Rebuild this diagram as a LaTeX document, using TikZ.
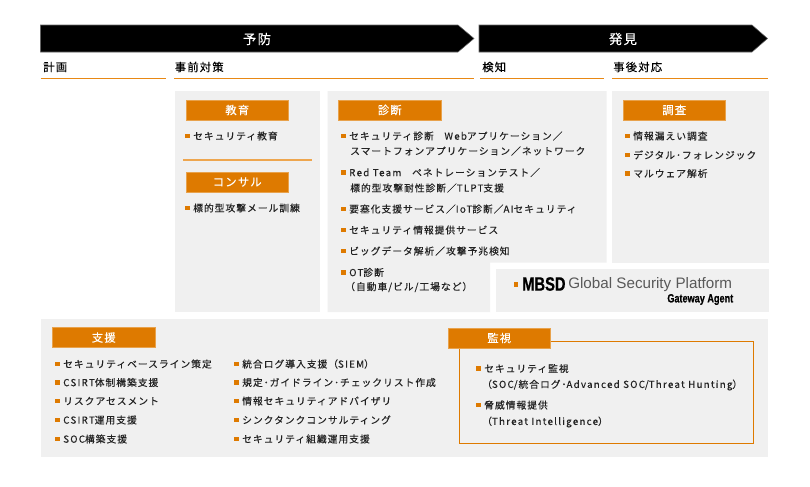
\documentclass[tikz,border=0pt]{standalone}
\usepackage{fontspec}
\usepackage{xcolor}
\setmainfont{Noto Sans CJK JP}[LetterSpace=10.5,FakeBold=0.25]
\newfontfamily\itemlatin{Noto Sans CJK JP}[LetterSpace=13,FakeBold=0.25]
\newfontfamily\latinfont{Liberation Sans}
\newfontfamily\narrowfont{Liberation Sans}[FakeStretch=0.76,FakeBold=0.6]
\newcommand{\ltn}[1]{{\itemlatin #1}}
\definecolor{mbsdorange}{RGB}{222,122,0}
\definecolor{lineorange}{RGB}{232,136,20}
\definecolor{paneglay}{RGB}{240,240,240}
\definecolor{itemtext}{RGB}{34,34,34}
\tikzset{
    phasearrow/.style={fill=black,draw=gray!80!black,line width=0.4pt},
    phasetext/.style={text=white,inner sep=0pt,font=\fontsize{10}{12}\selectfont},
    headtext/.style={anchor=west,inner sep=0pt,text=black,font=\fontsize{8.5}{10}\selectfont},
    headline/.style={lineorange,line width=0.9pt},
    pane/.style={fill=paneglay},
    tagbox/.style={fill=mbsdorange,draw=mbsdorange!70!white,line width=0.3pt},
    tagtext/.style={text=white,inner sep=0pt,font=\fontsize{8.5}{10}\selectfont},
    itemtext/.style={anchor=west,inner sep=0pt,text=itemtext,font=\fontsize{7.3}{9}\selectfont},
    itembullet/.style={fill=mbsdorange}
}
\begin{document}
\begin{tikzpicture}[x=0.75pt,y=-0.75pt]
    \useasboundingbox (0,0) rectangle (810,486);
    \fill[white] (0,0) rectangle (810,486);
    \draw[phasearrow] (40.5,25)--(458,25)--(474,38.5)--(458,52)--(40.5,52)--cycle;
    \draw[phasearrow] (479,25)--(752,25)--(767.5,38.5)--(752,52)--(479,52)--cycle;
    \node[phasetext] (yobou) at (257,39){予防};
    \node[phasetext] (hakken) at (623,39){発見};
    \foreach \n/\x/\t in {keikaku/43/計画,jizen/174.5/事前対策,kenchi/482/検知,jigo/613/事後対応}
        \node[headtext] (\n) at (\x,67){\t};
    \foreach \a/\b in {40.5/166,174/474,480/604,612/768}
        \draw[headline] (\a,78.5)--(\b,78.5);
    \fill[pane] (174.5,91) rectangle (320,312);
    \fill[pane] (327.5,91)--(606.7,91)--(606.7,262.5)--(490,262.5)--(490,312)--(327.5,312)--cycle;
    \fill[pane] (612,91) rectangle (769,262.5);
    \fill[pane] (496,268.5) rectangle (769,312);
    \fill[pane] (41,319) rectangle (768,457);
    \draw[mbsdorange,line width=0.85pt] (459.5,341.5) rectangle (753.5,443.5);
    \draw[lineorange!75!white,line width=0.9pt] (183,160)--(312,160);
    \foreach \n/\x/\y/\t in {kyoiku/186/100/教育,consul/186/172/コンサル,shindan/338.5/100/診断,chosa/623/100/調査,shien/52.5/327.5/支援,kanshi/448/328/監視}{
        \fill[tagbox] (\x,\y) rectangle ++(102.5,20);
        \node[tagtext] (\n) at (\x+51.25,\y+10){\t};
    }
    \foreach \n/\x/\y/\t in {
        a1/193/136/セキュリティ教育,
        a2/193/208/標的型攻撃メール訓練,
        b1/349/136/{セキュリティ診断　\ltn{Web}アプリケーション／},
        b2/349/172.5/{\ltn{Red Team}　ペネトレーションテスト／},
        b3/349/209/{要塞化支援サービス／\ltn{IoT}診断／\ltn{AI}セキュリティ},
        b4/349/230/セキュリティ情報提供サービス,
        b5/349/251/ビッグデータ解析／攻撃予兆検知,
        b6/349/272.5/{\ltn{OT}診断},
        c1/633/136/情報漏えい調査,
        c2/633/155/デジタル･フォレンジック,
        c3/633/173.5/マルウェア解析,
        d1/63/364/セキュリティベースライン策定,
        d2/63/382.5/{\ltn{CSIRT}体制構築支援},
        d3/63/401/リスクアセスメント,
        d4/63/420/{\ltn{CSIRT}運用支援},
        d5/63/439/{\ltn{SOC}構築支援},
        e1/242/364/{統合ログ導入支援（\ltn{SIEM}）},
        e2/242/382.5/規定･ガイドライン･チェックリスト作成,
        e3/242/401/情報セキュリティアドバイザリ,
        e4/242/420/シンクタンクコンサルティング,
        e5/242/439/セキュリティ組織運用支援,
        f1/484/368.5/セキュリティ監視,
        f2/484/405/脅威情報提供}{
        \node[itemtext] (\n) at (\x,\y){\t};
        \fill[itembullet] (\x-8,\y-2.3) rectangle ++(4.6,4.6);
    }
    \foreach \n/\x/\y/\t in {
        b1s/350/151/{スマートフォンアプリケーション／ネットワーク},
        b2s/350/188/{標的型攻撃耐性診断／\ltn{TLPT}支援},
        b6s/345/287/{（自動車/ビル/工場など）},
        f1s/482/385/{（\ltn{SOC}/統合ログ･\ltn{Advanced SOC}/\ltn{Threat Hunting}）},
        f2s/482/422/{（\ltn{Threat Intelligence}）}}
        \node[itemtext] (\n) at (\x,\y){\t};
    \fill[itembullet] (513.5,282) rectangle ++(4.6,4.6);
    \node[anchor=west,inner sep=0pt,font=\narrowfont\fontsize{14.5}{16}\selectfont\bfseries] (mbsd) at (522,284){MBSD};
    \node[anchor=west,inner sep=0pt,text=black!65,font=\latinfont\fontsize{11.4}{14}\selectfont] (platform) at (568,284.5){Global Security Platform};
    \node[anchor=east,inner sep=0pt,font=\narrowfont\fontsize{9}{10}\selectfont\bfseries] (gateway) at (733.5,299.5){Gateway Agent};
\end{tikzpicture}
\end{document}
